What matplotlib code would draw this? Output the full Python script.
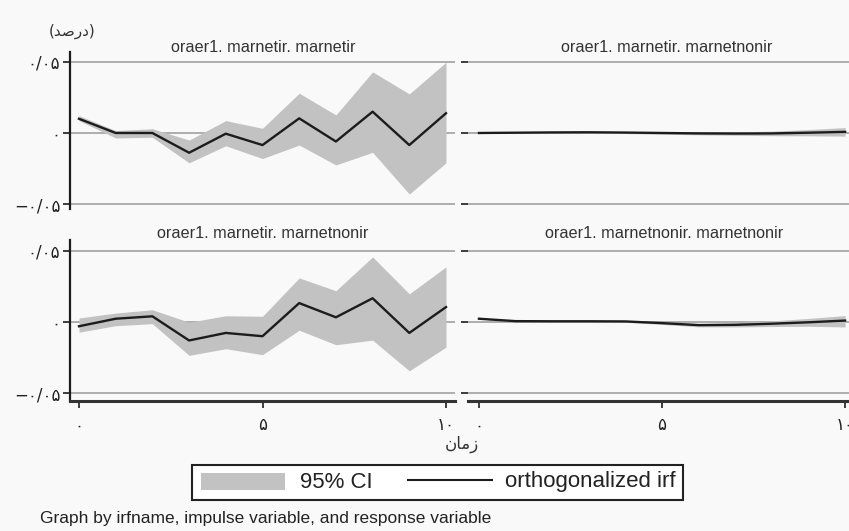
import numpy as np
import matplotlib.pyplot as plt
from matplotlib.patches import Rectangle
from matplotlib.lines import Line2D

plt.rcParams['font.family'] = ['Liberation Sans', 'DejaVu Sans']

# impulse-response data
steps = [0, 1, 2, 3, 4, 5, 6, 7, 8, 9, 10]

# oraer1, marnetir -> marnetir
irf_tl = [0.0100, 0.0000, 0.0000, -0.0139, -0.0005, -0.0085, 0.0103, -0.0060, 0.0150, -0.0085, 0.0139]
hi_tl = [0.0122, 0.0017, 0.0030, -0.0050, 0.0087, 0.0033, 0.0280, 0.0127, 0.0430, 0.0275, 0.0498]
lo_tl = [0.0087, -0.0035, -0.0030, -0.0210, -0.0090, -0.0180, -0.0085, -0.0225, -0.0136, -0.0430, -0.0210]

# oraer1, marnetir -> marnetnonir
irf_bl = [-0.0030, 0.0023, 0.0040, -0.0130, -0.0077, -0.0100, 0.0133, 0.0033, 0.0167, -0.0077, 0.0105]
hi_bl = [0.0028, 0.0063, 0.0086, -0.0002, 0.0044, 0.0040, 0.0310, 0.0220, 0.0458, 0.0198, 0.0388]
lo_bl = [-0.0072, -0.0026, -0.0012, -0.0235, -0.0188, -0.0230, -0.0058, -0.0160, -0.0128, -0.0344, -0.0177]

# oraer1, marnetir -> marnetnonir (right top)
irf_tr = [0.0000, 0.0002, 0.0004, 0.0005, 0.0003, 0.0000, -0.0003, -0.0004, -0.0003, 0.0002, 0.0008]
hi_tr = [0.0003, 0.0006, 0.0009, 0.0011, 0.0010, 0.0008, 0.0007, 0.0008, 0.0013, 0.0024, 0.0038]
lo_tr = [-0.0003, -0.0002, -0.0001, -0.0001, -0.0004, -0.0008, -0.0013, -0.0016, -0.0019, -0.0020, -0.0022]

# oraer1, marnetnonir -> marnetnonir
irf_br = [0.0023, 0.0006, 0.0005, 0.0005, 0.0004, -0.0008, -0.0022, -0.0020, -0.0012, -0.0002, 0.0010]
hi_br = [0.0025, 0.0009, 0.0009, 0.0010, 0.0010, 0.0001, -0.0010, -0.0005, 0.0008, 0.0025, 0.0045]
lo_br = [0.0021, 0.0003, 0.0001, 0.0000, -0.0002, -0.0017, -0.0034, -0.0035, -0.0032, -0.0030, -0.0035]

titles = ['oraer1. marnetir. marnetir', 'oraer1. marnetir. marnetnonir',
          'oraer1. marnetir. marnetnonir', 'oraer1. marnetnonir. marnetnonir']
yticks = [-0.05, 0, 0.05]
ytick_labels = ['\u2212\u06f0/\u06f0\u06f5', '\u06f0', '\u06f0/\u06f0\u06f5']
xticks = [0, 5, 10]
xtick_labels = ['\u06f0', '\u06f5', '\u06f1\u06f0']
ylabel = '(\ufeaa\ufebb\ufead\ufea9)'   # (درصد) in shaped visual order
xlabel = '\ufee5\ufe8e\ufee3\ufeaf'     # زمان in shaped visual order

W, H = 849, 531
bg = '#f9f9f9'
band = '#c2c2c2'
dark = '#1c1c1c'
grid = '#a8a8a8'


def px(x0, y0, x1, y1):
    # pixel box -> figure fraction [left, bottom, width, height]
    return [x0 / W, 1 - y1 / H, (x1 - x0) / W, (y1 - y0) / H]


fig = plt.figure(figsize=(W / 100, H / 100), dpi=100, facecolor=bg)

# rect, ylim, xlim, data, title index, left axis?, bottom axis?, title centre (px)
panels = [
    (px(70, 52, 455, 209), (-0.0535, 0.0570), (-0.245, 10.245), irf_tl, lo_tl, hi_tl, 0, True, False, (263, 47)),
    (px(468, 52, 855, 209), (-0.0535, 0.0570), (-0.30, 10.27), irf_tr, lo_tr, hi_tr, 1, False, False, (667, 47)),
    (px(70, 240, 455, 401), (-0.0556, 0.0577), (-0.245, 10.245), irf_bl, lo_bl, hi_bl, 2, True, True, (263, 234)),
    (px(468, 240, 855, 401), (-0.0556, 0.0577), (-0.30, 10.27), irf_br, lo_br, hi_br, 3, False, True, (664, 234)),
]

for rect, ylim, xlim, irf, lo, hi, k, left, bottom, tpos in panels:
    ax = fig.add_axes(rect)
    ax.set_facecolor(bg)
    ax.set_xlim(*xlim)
    ax.set_ylim(*ylim)
    for yv in yticks:
        ax.axhline(yv, color=grid, lw=1.3, zorder=0)
    ax.fill_between(steps, lo, hi, color=band, lw=0, zorder=1)
    ax.plot(steps, irf, color=dark, lw=1.7, zorder=2)

    for s in ['top', 'right']:
        ax.spines[s].set_visible(False)
    ax.spines['left'].set_visible(left)
    ax.spines['left'].set_color(dark)
    ax.spines['left'].set_linewidth(1.6)
    ax.spines['bottom'].set_visible(bottom)
    ax.spines['bottom'].set_color('#333333')
    ax.spines['bottom'].set_linewidth(2.2)

    ax.set_yticks(yticks)
    if left:
        ax.set_yticklabels(ytick_labels, fontsize=12, color='#222222',
                           family=['DejaVu Sans'])
    else:
        ax.set_yticklabels([])
    ax.tick_params(axis='y', length=5, width=1.2, color=dark, pad=2)

    if bottom:
        ax.set_xticks(xticks)
        ax.set_xticklabels(xtick_labels, fontsize=12, color='#222222',
                           family=['DejaVu Sans'])
        ax.tick_params(axis='x', length=5, width=1.2, color=dark, pad=6)
    else:
        ax.set_xticks([])

    fig.text(tpos[0] / W, 1 - tpos[1] / H, titles[k], ha='center', va='center',
             fontsize=11.7, color='#333333')

fig.text(72 / W, 1 - 31 / H, ylabel, ha='center', va='center', fontsize=11,
         color='#333333', family=['DejaVu Sans'])
fig.text(462 / W, 1 - 444 / H, xlabel, ha='center', va='center', fontsize=12,
         color='#333333', family=['DejaVu Sans'])

# legend box drawn in figure coordinates
box = px(192, 465, 683, 500)
fig.add_artist(Rectangle((box[0], box[1]), box[2], box[3], transform=fig.transFigure,
                         facecolor='white', edgecolor='#222222', lw=1.5))
patch = px(201, 473, 285, 490)
fig.add_artist(Rectangle((patch[0], patch[1]), patch[2], patch[3],
                         transform=fig.transFigure, facecolor=band, lw=0))
fig.text(300 / W, 1 - 483 / H, '95% CI', ha='left', va='center', fontsize=16,
         color='#222222')
fig.add_artist(Line2D([408 / W, 492 / W], [1 - 480 / H, 1 - 480 / H],
                      transform=fig.transFigure, color=dark, lw=1.5))
fig.text(505 / W, 1 - 482 / H, 'orthogonalized irf', ha='left', va='center',
         fontsize=16, color='#222222')

fig.text(40 / W, 1 - 519 / H, 'Graph by irfname, impulse variable, and response variable',
         ha='left', va='center', fontsize=12.5, color='#222222')

fig.savefig('out.png', dpi=100, facecolor=bg)
